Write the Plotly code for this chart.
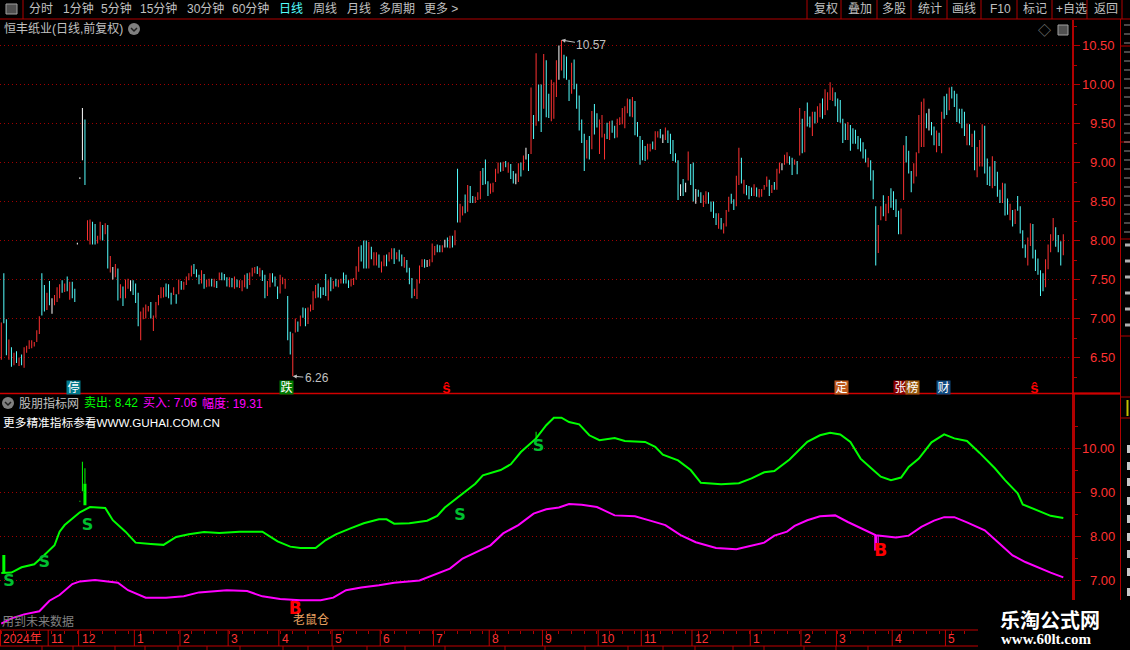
import plotly.graph_objects as go

W = 1130
H = 650

# дневные бары: high, low, направление (1 рост, -1 падение, 0 доджи)
bar_high = [
    6.95, 7.58, 6.99, 6.73, 6.63, 6.56, 6.58, 6.50, 6.54, 6.63, 6.65, 6.72, 6.72, 6.70, 6.85, 7.03, 7.58, 7.43, 7.33, 7.48,
    7.26, 7.30, 7.40, 7.44, 7.49, 7.45, 7.54, 7.47, 7.47, 7.38, 7.97, 8.81, 9.70, 9.55, 8.26, 8.27, 8.24, 8.21, 8.06, 8.24,
    8.20, 8.22, 8.20, 7.80, 7.66, 7.70, 7.64, 7.44, 7.41, 7.50, 7.51, 7.49, 7.49, 7.45, 7.33, 7.09, 7.14, 7.18, 7.16, 7.21,
    7.04, 7.21, 7.30, 7.40, 7.40, 7.45, 7.44, 7.33, 7.40, 7.31, 7.50, 7.48, 7.47, 7.54, 7.58, 7.68, 7.70, 7.63, 7.56, 7.62,
    7.57, 7.50, 7.51, 7.51, 7.51, 7.48, 7.59, 7.59, 7.57, 7.53, 7.53, 7.52, 7.54, 7.50, 7.49, 7.49, 7.56, 7.58, 7.59, 7.65,
    7.66, 7.67, 7.65, 7.62, 7.56, 7.48, 7.58, 7.58, 7.54, 7.41, 7.56, 7.53, 7.51, 7.29, 6.83, 6.81, 7.00, 6.96, 7.04, 7.14,
    7.13, 7.14, 7.18, 7.35, 7.43, 7.45, 7.40, 7.40, 7.57, 7.49, 7.53, 7.48, 7.51, 7.50, 7.51, 7.59, 7.56, 7.49, 7.51, 7.52,
    7.67, 7.92, 7.94, 8.00, 8.00, 7.98, 7.92, 7.85, 7.85, 7.82, 7.73, 7.81, 7.82, 7.85, 7.90, 7.90, 7.85, 7.88, 7.82, 7.79,
    7.75, 7.65, 7.52, 7.38, 7.50, 7.68, 7.76, 7.76, 7.75, 7.76, 7.96, 7.93, 7.95, 7.94, 7.94, 8.01, 8.04, 8.06, 8.06, 8.13,
    8.92, 8.47, 8.44, 8.59, 8.71, 8.70, 8.57, 8.56, 8.62, 8.89, 8.93, 9.04, 8.76, 8.73, 8.74, 8.92, 9.00, 9.00, 9.01, 9.02,
    9.00, 8.98, 8.89, 8.86, 8.99, 9.00, 9.09, 9.19, 9.11, 9.96, 9.61, 10.40, 10.00, 10.00, 10.39, 10.31, 9.88, 10.06, 10.03, 10.31,
    10.50, 10.57, 10.38, 10.36, 10.06, 10.28, 10.32, 10.01, 9.86, 9.55, 9.37, 9.29, 9.34, 9.66, 9.75, 9.63, 9.55, 9.61, 9.37, 9.51,
    9.53, 9.54, 9.47, 9.56, 9.58, 9.70, 9.72, 9.82, 9.81, 9.84, 9.79, 9.52, 9.34, 9.29, 9.21, 9.24, 9.24, 9.27, 9.40, 9.40,
    9.43, 9.36, 9.45, 9.41, 9.37, 9.29, 9.12, 9.03, 8.72, 8.79, 8.74, 9.14, 8.98, 9.00, 8.66, 8.65, 8.62, 8.58, 8.63, 8.62,
    8.50, 8.50, 8.35, 8.35, 8.29, 8.22, 8.39, 8.56, 8.60, 8.53, 8.83, 9.19, 9.06, 8.78, 8.71, 8.70, 8.68, 8.72, 8.68, 8.66,
    8.66, 8.71, 8.82, 8.78, 8.71, 8.75, 8.92, 9.00, 8.99, 9.10, 9.13, 9.08, 9.06, 9.04, 9.02, 9.70, 9.56, 9.66, 9.77, 9.59,
    9.65, 9.65, 9.72, 9.76, 9.82, 9.94, 9.90, 10.03, 9.96, 9.90, 9.82, 9.80, 9.56, 9.50, 9.52, 9.48, 9.44, 9.42, 9.34, 9.31,
    9.26, 9.17, 9.06, 9.03, 8.90, 8.44, 8.20, 8.44, 8.58, 8.47, 8.57, 8.67, 8.63, 8.53, 8.38, 8.41, 9.22, 9.34, 9.15, 8.89,
    8.99, 9.13, 9.61, 9.78, 9.82, 9.63, 9.69, 9.52, 9.46, 9.41, 9.38, 9.65, 9.85, 9.88, 9.96, 9.97, 9.92, 9.88, 9.69, 9.69,
    9.65, 9.50, 9.49, 9.37, 9.41, 9.20, 9.29, 9.49, 9.47, 9.05, 8.95, 9.08, 9.02, 8.88, 8.65, 8.74, 8.73, 8.54, 8.47, 8.39,
    8.40, 8.57, 8.44, 8.13, 7.95, 8.04, 8.22, 8.21, 7.88, 7.77, 7.62, 7.58, 7.76, 7.95, 8.08, 8.29, 8.17, 8.07, 7.99, 8.08,
]
bar_low = [
    6.47, 6.94, 6.53, 6.47, 6.38, 6.40, 6.43, 6.39, 6.40, 6.37, 6.56, 6.61, 6.62, 6.64, 6.70, 6.80, 7.04, 7.09, 7.11, 7.17,
    7.06, 7.17, 7.21, 7.26, 7.33, 7.34, 7.35, 7.24, 7.26, 7.21, 7.95, 8.79, 9.03, 8.71, 8.00, 7.95, 7.95, 7.95, 7.96, 8.01,
    8.00, 8.08, 7.64, 7.59, 7.50, 7.53, 7.23, 7.26, 7.16, 7.26, 7.38, 7.35, 7.30, 7.20, 6.90, 6.72, 6.99, 7.00, 7.09, 7.00,
    6.84, 7.01, 7.17, 7.26, 7.27, 7.28, 7.26, 7.18, 7.30, 7.19, 7.31, 7.37, 7.37, 7.43, 7.49, 7.54, 7.57, 7.53, 7.44, 7.45,
    7.38, 7.40, 7.41, 7.41, 7.40, 7.39, 7.49, 7.49, 7.49, 7.41, 7.40, 7.40, 7.38, 7.40, 7.39, 7.35, 7.40, 7.38, 7.43, 7.54,
    7.58, 7.57, 7.54, 7.48, 7.26, 7.29, 7.40, 7.46, 7.41, 7.25, 7.32, 7.44, 7.38, 6.72, 6.54, 6.26, 6.82, 6.83, 6.90, 7.01,
    6.90, 6.93, 7.09, 7.11, 7.26, 7.27, 7.26, 7.30, 7.29, 7.23, 7.35, 7.38, 7.41, 7.40, 7.45, 7.45, 7.45, 7.39, 7.41, 7.43,
    7.50, 7.60, 7.73, 7.64, 7.64, 7.64, 7.76, 7.68, 7.68, 7.65, 7.59, 7.67, 7.67, 7.73, 7.76, 7.70, 7.76, 7.73, 7.67, 7.65,
    7.59, 7.44, 7.26, 7.29, 7.25, 7.45, 7.66, 7.65, 7.66, 7.67, 7.72, 7.81, 7.85, 7.85, 7.85, 7.91, 7.91, 7.90, 7.91, 7.94,
    8.23, 8.23, 8.32, 8.35, 8.37, 8.48, 8.48, 8.48, 8.52, 8.53, 8.71, 8.72, 8.57, 8.60, 8.62, 8.75, 8.86, 8.88, 8.89, 8.94,
    8.87, 8.79, 8.73, 8.72, 8.75, 8.82, 8.90, 9.04, 8.89, 9.11, 9.30, 9.47, 9.53, 9.39, 9.69, 9.58, 9.57, 9.53, 9.56, 9.84,
    10.06, 10.18, 10.08, 10.06, 9.79, 9.88, 9.94, 9.69, 9.41, 9.25, 8.89, 9.05, 9.04, 9.17, 9.36, 9.45, 9.11, 9.32, 9.04, 9.30,
    9.29, 9.38, 9.31, 9.32, 9.48, 9.49, 9.44, 9.63, 9.59, 9.58, 9.35, 9.33, 8.97, 9.03, 9.02, 9.04, 9.14, 9.17, 9.16, 9.32,
    9.31, 9.25, 9.29, 9.25, 9.11, 9.02, 9.00, 8.52, 8.57, 8.57, 8.62, 8.77, 8.71, 8.50, 8.47, 8.56, 8.48, 8.43, 8.47, 8.47,
    8.37, 8.29, 8.20, 8.15, 8.14, 8.09, 8.18, 8.37, 8.47, 8.39, 8.44, 8.71, 8.73, 8.60, 8.58, 8.53, 8.57, 8.57, 8.56, 8.55,
    8.56, 8.65, 8.69, 8.57, 8.61, 8.65, 8.65, 8.86, 8.90, 8.97, 8.99, 8.97, 8.84, 8.97, 8.85, 9.09, 9.12, 9.13, 9.46, 9.45,
    9.34, 9.50, 9.51, 9.58, 9.56, 9.61, 9.67, 9.80, 9.79, 9.72, 9.52, 9.51, 9.25, 9.29, 9.29, 9.15, 9.24, 9.24, 9.17, 9.14,
    9.05, 9.00, 8.94, 8.77, 8.53, 7.68, 7.84, 8.26, 8.31, 8.25, 8.35, 8.42, 8.39, 8.30, 8.08, 8.08, 8.52, 9.00, 8.86, 8.62,
    8.73, 8.82, 9.12, 9.20, 9.20, 9.44, 9.41, 9.35, 9.22, 9.13, 9.21, 9.12, 9.56, 9.61, 9.67, 9.82, 9.71, 9.52, 9.50, 9.44,
    9.34, 9.22, 9.22, 9.20, 8.90, 8.81, 8.95, 8.95, 8.86, 8.71, 8.70, 8.67, 8.70, 8.56, 8.48, 8.48, 8.32, 8.33, 8.26, 8.18,
    8.21, 8.38, 8.09, 7.90, 7.78, 7.68, 7.93, 7.77, 7.61, 7.56, 7.29, 7.35, 7.40, 7.63, 7.85, 8.00, 7.92, 7.85, 7.68, 7.81,
]
bar_dir = [
    1, -1, -1, 1, -1, 1, -1, 1, -1, 1, 1, 1, 1, 1, 1, 1, -1, -1, 1, -1,
    0, 1, 1, 1, -1, 1, -1, 1, -1, -1, 0, 0, 0, -1, 1, 1, -1, -1, 1, 1,
    -1, 1, -1, 1, 0, 1, -1, 1, -1, 1, 1, 0, -1, -1, -1, 1, 1, 1, 1, -1,
    1, 1, 1, 1, 1, -1, -1, -1, 1, -1, 1, -1, 1, 1, 1, 1, -1, -1, -1, 1,
    -1, 1, 1, -1, 1, -1, 1, -1, -1, -1, 1, -1, 1, -1, 1, 1, 1, -1, 1, 1,
    1, -1, 1, -1, -1, 1, 1, -1, -1, -1, 1, 1, 1, -1, -1, 1, 1, -1, 1, -1,
    -1, 1, 1, 1, 1, -1, -1, -1, -1, 1, -1, 1, -1, 1, 1, -1, -1, -1, 1, 1,
    1, 1, -1, -1, -1, 1, -1, 1, 1, -1, 1, 1, -1, 1, 1, -1, 1, -1, -1, 1,
    -1, -1, -1, 1, 1, 1, 1, -1, 0, 1, 1, 1, -1, -1, 1, 0, -1, 1, -1, 1,
    -1, 1, 1, -1, 1, -1, -1, 1, 1, 1, -1, -1, -1, 1, 1, 1, 1, -1, 1, -1,
    1, -1, -1, 0, 1, -1, 1, 0, -1, 1, -1, 1, -1, -1, 1, -1, -1, 1, 1, 1,
    0, 1, -1, -1, -1, 1, -1, -1, -1, -1, -1, 1, -1, 1, -1, -1, 1, 1, 1, -1,
    1, -1, -1, 1, 1, 1, 1, 1, -1, 1, -1, -1, -1, -1, -1, 1, 1, -1, 1, 1,
    -1, 0, 1, -1, -1, -1, -1, -1, 0, -1, 0, 1, -1, -1, 0, -1, -1, 1, 1, -1,
    -1, -1, -1, 1, -1, 1, 1, 1, -1, -1, 1, 1, -1, 1, -1, -1, -1, 1, -1, 1,
    1, 1, 1, -1, 1, -1, 1, 1, 0, 1, 1, -1, -1, 1, -1, 1, -1, 1, -1, -1,
    1, -1, 1, 1, -1, 1, 1, 1, 1, -1, -1, -1, -1, -1, 1, -1, -1, -1, -1, -1,
    -1, -1, 1, -1, -1, -1, 1, 1, -1, 1, 1, -1, -1, -1, -1, 1, 1, -1, -1, -1,
    1, 1, 1, 1, 1, -1, 0, -1, -1, 1, -1, 1, -1, -1, 1, -1, -1, -1, -1, -1,
    -1, 1, -1, 1, -1, 1, 1, 1, -1, -1, -1, 1, -1, -1, -1, 1, -1, -1, 1, -1,
    1, -1, -1, -1, -1, 1, 1, -1, -1, -1, -1, -1, 1, 1, 1, 1, -1, -1, -1, 1,
]

# индикатор: линии читались с картинки через несколько баров
sell_idx = [
    0, 4, 8, 13, 17, 21, 23, 25, 31, 35, 41, 44, 49, 53, 59, 64, 69, 74, 80, 86,
    94, 103, 109, 114, 118, 124, 128, 132, 138, 143, 149, 152, 155, 161, 168, 172, 175, 181, 187, 190,
    197, 201, 205, 211, 215, 218, 221, 224, 228, 232, 236, 242, 246, 254, 258, 261, 267, 272, 276, 284,
    291, 296, 301, 305, 311, 318, 323, 327, 331, 335, 339, 344, 347, 351, 355, 358, 362, 367, 372, 376,
    381, 386, 392, 396, 401, 403, 408, 414, 419,
]
sell_val = [
    7.17, 7.18, 7.30, 7.37, 7.58, 7.80, 8.11, 8.26, 8.55, 8.67, 8.65, 8.37, 8.11, 7.86, 7.83, 7.81, 7.99, 8.05, 8.10, 8.08,
    8.11, 8.11, 7.89, 7.77, 7.74, 7.74, 7.92, 8.05, 8.19, 8.30, 8.39, 8.39, 8.29, 8.30, 8.36, 8.47, 8.66, 8.94, 9.20, 9.39,
    9.51, 9.64, 9.92, 10.23, 10.53, 10.70, 10.70, 10.60, 10.55, 10.30, 10.19, 10.24, 10.17, 10.15, 10.04, 9.86, 9.73, 9.51, 9.22, 9.19,
    9.21, 9.32, 9.46, 9.49, 9.75, 10.15, 10.30, 10.36, 10.32, 10.15, 9.77, 9.51, 9.36, 9.28, 9.34, 9.58, 9.77, 10.14, 10.32, 10.23,
    10.17, 9.90, 9.55, 9.28, 8.98, 8.73, 8.61, 8.47, 8.42,
]
buy_idx = [
    0, 4, 9, 15, 19, 23, 28, 31, 37, 42, 46, 50, 57, 65, 72, 78, 84, 89, 97, 103,
    110, 118, 126, 131, 136, 142, 149, 155, 165, 171, 177, 182, 189, 193, 198, 204, 210, 215, 220, 224,
    229, 235, 242, 250, 256, 262, 268, 274, 282, 290, 295, 301, 305, 310, 313, 318, 323, 329, 334, 340,
    345, 353, 358, 363, 368, 372, 376, 381, 388, 394, 399, 404, 410, 414, 419,
]
buy_val = [
    6.02, 6.14, 6.23, 6.30, 6.54, 6.67, 6.92, 6.98, 7.01, 6.97, 6.95, 6.78, 6.61, 6.61, 6.64, 6.73, 6.76, 6.78, 6.76, 6.64,
    6.58, 6.55, 6.55, 6.61, 6.78, 6.84, 6.89, 6.95, 7.00, 7.14, 7.27, 7.50, 7.69, 7.80, 8.07, 8.26, 8.52, 8.62, 8.66, 8.74,
    8.72, 8.67, 8.48, 8.46, 8.36, 8.26, 8.03, 7.87, 7.74, 7.71, 7.78, 7.86, 8.02, 8.11, 8.24, 8.37, 8.46, 8.48, 8.33, 8.16,
    8.03, 7.98, 8.02, 8.22, 8.36, 8.44, 8.44, 8.32, 8.14, 7.83, 7.57, 7.42, 7.27, 7.18, 7.07,
]

# сигналы индикатора
sell_bar_idx = [1, 31, 32, 33, 33, 211]
sell_bar_top = [7.58, 8.81, 9.70, 9.55, 9.20, 10.38]
sell_bar_bottom = [7.17, 8.79, 9.03, 9.20, 8.71, 10.15]
sell_bar_thick = [True, False, False, False, True, False]
buy_bar_idx = [115, 345, 346]
buy_bar_top = [6.58, 8.03, 8.03]
buy_bar_bottom = [6.26, 7.68, 7.84]
buy_bar_thick = [False, True, False]
s_idx = [3, 17, 34, 181, 212]
s_val = [6.97, 7.40, 8.24, 8.47, 10.03]
b_idx = [116, 347]
b_val = [6.33, 7.65]

# оси и подписи
price_ticks = [6.5, 7.0, 7.5, 8.0, 8.5, 9.0, 9.5, 10.0, 10.5]
price_labels = ["6.50", "7.00", "7.50", "8.00", "8.50", "9.00", "9.50", "10.00", "10.50"]
ind_ticks = [7.0, 8.0, 9.0, 10.0]
ind_labels = ["7.00", "8.00", "9.00", "10.00"]
month_idx = [19, 31, 53, 71, 90, 110, 131, 150, 171, 193, 214, 236, 253, 273, 296, 316, 330, 352, 373]
month_names = ["11", "12", "1", "2", "3", "4", "5", "6", "7", "8", "9", "10", "11", "12", "1", "2", "3", "4", "5"]

event_idx = [29, 113, 176, 332, 355, 360, 372, 408]
event_text = ["停", "跌", "<b>ŝ</b>", "定", "张", "榜", "财", "<b>ŝ</b>"]
event_bg = ["#007a8c", "#007a00", None, "#c05a1e", "#8a0000", "#9a5a10", "#0f4a80", None]

left_menu = ["分时", "1分钟", "5分钟", "15分钟", "30分钟", "60分钟", "日线", "周线", "月线", "多周期", "更多 >"]
left_menu_x = [28, 62, 100, 139, 186, 231, 278, 312, 346, 378, 423]
right_menu = ["复权", "叠加", "多股", "统计", "画线", "F10", "标记", "+自选", "返回"]
right_menu_x = [813, 847, 881, 917, 951, 989, 1022, 1055, 1093]
right_menu_sep = [807, 841, 877, 911, 947, 981, 1017, 1052, 1087, 1122]

RED = "#ff3232"
LINE = "#b00000"
GRID = "#a00000"
GREY = "#c0c0c0"
FONT = "Liberation Sans, Noto Sans CJK SC"

STEP = 2.5346  # пикселей на бар
PLOT_R = 1072
ONE_PX = 1 / STEP  # alpha чуть меньше 1, чтобы plotly округлял бары до целых пикселей


def xp(x):
    return x / W


def yp(y):
    return 1 - y / H


def px_range(y_bottom, y_top, ref_y, ref_val, per_unit):
    return [ref_val - (y_bottom - ref_y) / per_unit, ref_val + (ref_y - y_top) / per_unit]


fig = go.Figure()


def text(x, y, s, color=GREY, size=12, anchor="left", family=FONT, **kw):
    fig.add_annotation(x=xp(x), y=yp(y), xref="paper", yref="paper", text=s, showarrow=False,
                       xanchor=anchor, yanchor="middle", font=dict(color=color, size=size, family=family),
                       borderpad=0, **kw)


def hline(x0, x1, y, color=LINE, width=1):
    fig.add_shape(type="line", xref="paper", yref="paper", x0=xp(x0), x1=xp(x1), y0=yp(y), y1=yp(y),
                  line=dict(color=color, width=width))


def vline(x, y0, y1, color=LINE, width=1):
    fig.add_shape(type="line", xref="paper", yref="paper", x0=xp(x), x1=xp(x), y0=yp(y0), y1=yp(y1),
                  line=dict(color=color, width=width))


def circle_icon(cx, cy):
    fig.add_shape(type="circle", xref="paper", yref="paper", x0=xp(cx - 6), x1=xp(cx + 6), y0=yp(cy + 6), y1=yp(cy - 6),
                  fillcolor="#808080", line=dict(width=0))
    fig.add_shape(type="path", xref="paper", yref="paper",
                  path=f"M {xp(cx - 3)} {yp(cy - 1)} L {xp(cx)} {yp(cy + 2)} L {xp(cx + 3)} {yp(cy - 1)}",
                  line=dict(color="#202020", width=1.5))


# свечи
dir_color = {1: "rgba(255,50,50,0.995)", -1: "rgba(84,255,255,0.995)", 0: "rgba(255,255,255,0.995)"}
x_all = list(range(len(bar_high)))
fig.add_trace(go.Bar(x=x_all, y=[h - l for h, l in zip(bar_high, bar_low)], base=bar_low,
                     width=ONE_PX, marker=dict(color=[dir_color[d] for d in bar_dir], line=dict(width=0)),
                     xaxis="x", yaxis="y"))

# линии индикатора
fig.add_trace(go.Scatter(x=sell_idx, y=sell_val, mode="lines", line=dict(color="#00ff00", width=2), xaxis="x", yaxis="y2"))
fig.add_trace(go.Scatter(x=buy_idx, y=buy_val, mode="lines", line=dict(color="#ff00ff", width=2), xaxis="x", yaxis="y2"))

for idx, top, bottom, thick, color in (
    [(a, b, c, d, "rgba(0,255,0,0.995)") for a, b, c, d in zip(sell_bar_idx, sell_bar_top, sell_bar_bottom, sell_bar_thick)]
    + [(a, b, c, d, "rgba(255,0,255,0.995)") for a, b, c, d in zip(buy_bar_idx, buy_bar_top, buy_bar_bottom, buy_bar_thick)]
):
    fig.add_trace(go.Bar(x=[idx], y=[top - bottom], base=[bottom], width=3 * ONE_PX if thick else ONE_PX,
                         marker=dict(color=color, line=dict(width=0)), xaxis="x", yaxis="y2"))

fig.add_trace(go.Scatter(x=s_idx, y=s_val, mode="text", text=["<b>S</b>"] * len(s_idx), xaxis="x", yaxis="y2",
                         textfont=dict(color="#00c030", size=16, family="DejaVu Sans")))
fig.add_trace(go.Scatter(x=b_idx, y=b_val, mode="text", text=["<b>B</b>"] * len(b_idx), xaxis="x", yaxis="y2",
                         textfont=dict(color="#ff0000", size=17, family="DejaVu Sans")))

fig.update_layout(
    width=W, height=H, margin=dict(l=0, r=0, t=0, b=0),
    paper_bgcolor="black", plot_bgcolor="black", showlegend=False, barmode="overlay",
    xaxis=dict(
        domain=[0, PLOT_R / W], range=[-1.3 / STEP, (PLOT_R - 1.3) / STEP],
        anchor="free", position=yp(630), showgrid=False, zeroline=False, showline=False, showticklabels=False,
        ticks="outside", ticklen=3, tickcolor=LINE, tickmode="array", tickvals=list(range(0, 385, 5)),
    ),
    yaxis=dict(
        domain=[yp(393), yp(20)], range=px_range(393, 20, 84.5, 10.0, 78), side="right", anchor="x",
        tickmode="array", tickvals=price_ticks, showticklabels=False, zeroline=False,
        showline=True, linecolor=LINE, linewidth=2, ticks="outside", ticklen=6, tickcolor=LINE,
        showgrid=True, gridcolor=GRID, griddash="1px,3px", gridwidth=1,
        minor=dict(tickvals=[t + 0.25 for t in price_ticks[:-1]] + [6.25, 10.75], ticks="outside", ticklen=3,
                   tickcolor=LINE, showgrid=False),
    ),
    yaxis2=dict(
        domain=[yp(630), yp(394)], range=px_range(630, 394, 448.5, 10.0, 44), side="right", anchor="x",
        tickmode="array", tickvals=ind_ticks, showticklabels=False, zeroline=False,
        showline=True, linecolor=LINE, linewidth=3, ticks="outside", ticklen=6, tickcolor=LINE,
        showgrid=True, gridcolor=GRID, griddash="1px,3px", gridwidth=1,
        minor=dict(tickvals=[7.5, 8.5, 9.5, 10.5], ticks="outside", ticklen=3, tickcolor=LINE, showgrid=False),
    ),
)

# подписи цены справа
for val, lab in zip(price_ticks, price_labels):
    fig.add_annotation(x=xp(1117), xref="paper", y=val, yref="y", text=lab, showarrow=False, xanchor="right",
                       yanchor="middle", font=dict(color=RED, size=13, family=FONT))
for val, lab in zip(ind_ticks, ind_labels):
    fig.add_annotation(x=xp(1117), xref="paper", y=val, yref="y2", text=lab, showarrow=False, xanchor="right",
                       yanchor="middle", font=dict(color=RED, size=13, family=FONT))

# максимум и минимум
hi = max(bar_high)
lo = min(bar_low)
fig.add_annotation(x=bar_high.index(hi), y=hi, xref="x", yref="y", text=f"{hi:.2f}", ax=30, ay=5, arrowcolor=GREY,
                   arrowwidth=1, arrowhead=2, arrowsize=0.8, standoff=0, font=dict(color=GREY, size=12, family=FONT))
fig.add_annotation(x=bar_low.index(lo), y=lo, xref="x", yref="y", text=f"{lo:.2f}", ax=24, ay=2, arrowcolor=GREY,
                   arrowwidth=1, arrowhead=2, arrowsize=0.8, standoff=0, font=dict(color=GREY, size=12, family=FONT))

# значки событий
for idx, s, bg in zip(event_idx, event_text, event_bg):
    fig.add_annotation(x=idx, xref="x", y=yp(387), yref="paper", yanchor="middle", text=s, showarrow=False, xshift=-1,
                       width=13, height=13, bgcolor=bg if bg else "rgba(0,0,0,0)", borderpad=0,
                       font=dict(color="#ffffff" if bg else "#ff0000", size=12 if bg else 15, family=FONT))

# верхнее меню
for s, x in zip(left_menu, left_menu_x):
    text(x, 9, s, color="#54ffff" if s == "日线" else GREY)
for s, x in zip(right_menu, right_menu_x):
    text(x, 9, s)
for x in right_menu_sep + [23]:
    vline(x, 0, 19)
hline(0, W, 19)
fig.add_shape(type="rect", xref="paper", yref="paper", x0=xp(6), x1=xp(17), y0=yp(14), y1=yp(4),
              line=dict(color="#a0a0a0", width=1), fillcolor="#505050")

# заголовки панелей
text(3, 29, "恒丰纸业(日线,前复权)")
circle_icon(134, 29)
text(1044, 30, "◇", color="#808080", size=13, anchor="center")
fig.add_shape(type="rect", xref="paper", yref="paper", x0=xp(1058), x1=xp(1068), y0=yp(35), y1=yp(25),
              line=dict(color="#a0a0a0", width=1), fillcolor="#505050")

hline(0, 1120, 393.5, color="#d00000", width=1.5)
circle_icon(8, 403)
text(18, 403, "股朋指标网")
text(83, 403, "卖出: 8.42", color="#00ff00")
text(142, 403, "买入: 7.06", color="#ff00ff")
text(201, 403, "幅度: 19.31", color="#ff00ff")
text(2, 422, "更多精准指标参看WWW.GUHAI.COM.CN", color="#ffffff", size=11.7)
text(1, 621, "用到未来数据", color="#808080")
text(292, 620, "老鼠仓", color="#e8a060")

# полоса дат
hline(0, 978, 630, color="#c00000")
hline(0, 978, 646, color="#c00000")
vline(0.5, 630, 646, color="#c00000")
text(2, 638.5, "2024年", color=RED)
for idx, name in zip(month_idx, month_names):
    fig.add_shape(type="line", xref="x", yref="paper", x0=idx - 0.5, x1=idx - 0.5, y0=yp(630), y1=yp(646),
                  line=dict(color="#c00000", width=1))
    fig.add_annotation(x=idx - 0.5, xref="x", y=yp(638.5), yref="paper", yanchor="middle", text=name, showarrow=False,
                       xanchor="left", xshift=1, font=dict(color=RED, size=12, family=FONT))
for x in [42, 73, 115, 145, 178, 207, 240, 283, 308, 333, 367, 405, 445, 505, 545, 585, 628, 663, 695, 733, 764, 804, 836, 868]:
    vline(x, 646, 650)

# правая колонка обрезана краем окна
vline(1120.5, 19, 600)
for y in [46, 142, 239, 336]:
    hline(1121, W, y)
for y in range(25, 236, 9):
    hline(1124, W, y, color="#909090")
for y in range(245, 330, 16):
    hline(1125, W, y, color="#b0b0b0", width=3)
hline(1072, 1120, 393.5, color="#d00000", width=2)
hline(1121, W, 397)
hline(1121, W, 418)
vline(1127.5, 400, 416, color="#c0c000", width=2)
for y in [445, 462, 478, 497, 515, 533, 550, 568, 588]:
    fig.add_shape(type="rect", xref="paper", yref="paper", x0=xp(1127), x1=xp(W), y0=yp(y + 8), y1=yp(y),
                  fillcolor="#c8c8c8", line=dict(width=0))

# водяной знак поверх оси
fig.add_shape(type="rect", xref="paper", yref="paper", x0=xp(978.5), x1=xp(W), y0=yp(650), y1=yp(600),
              fillcolor="black", line=dict(width=0), layer="above")
text(1050, 619, "<b>乐淘公式网</b>", color="#ffffff", size=20, anchor="center", family="Noto Sans CJK SC")
text(1046, 639, "<b>www.60lt.com</b>", color="#ffffff", size=15, anchor="center", family="Liberation Serif")

fig.write_html("out.html", config=dict(displayModeBar=False),
               post_script="document.body.style.margin='0';document.body.style.background='black';")
